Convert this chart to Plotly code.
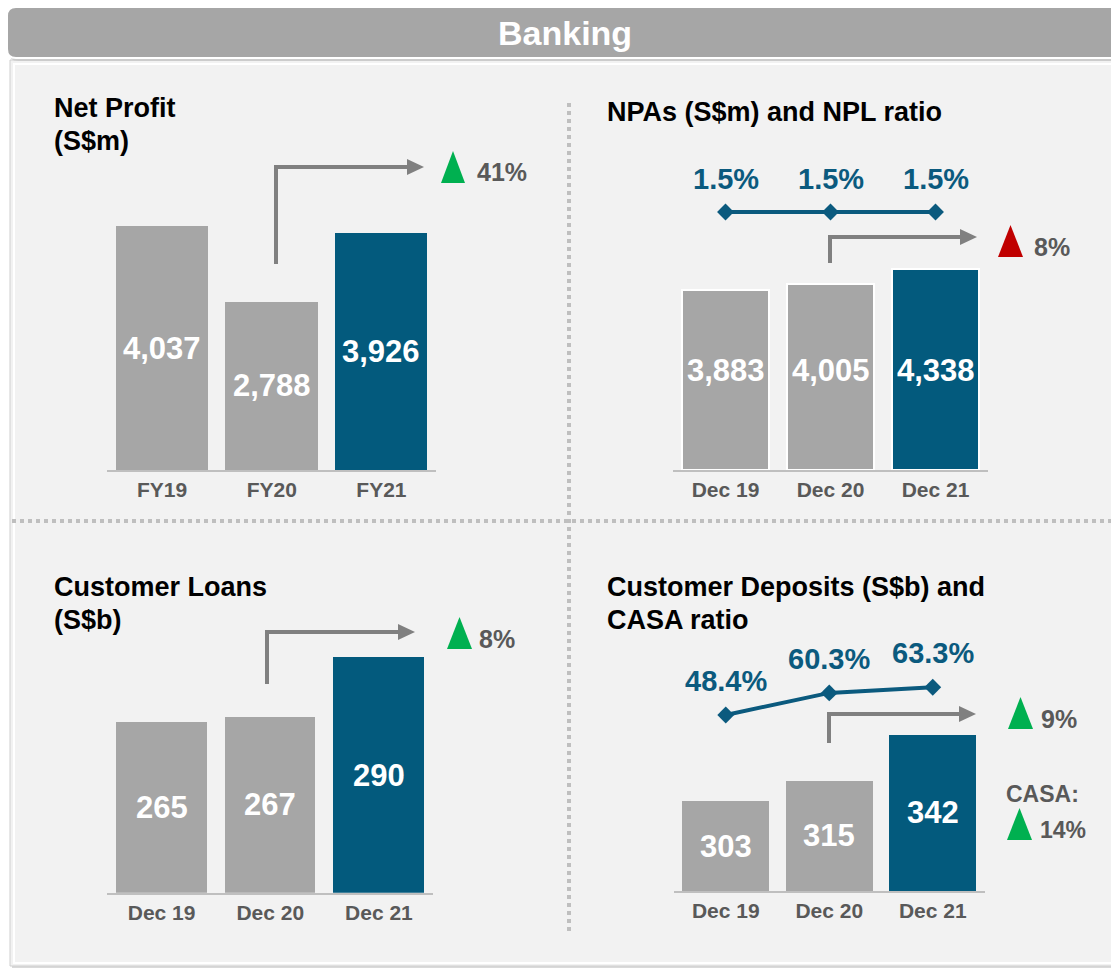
import plotly.graph_objects as go

# ---------------- data ----------------
np_cats = ["FY19", "FY20", "FY21"]
np_vals = [4037, 2788, 3926]
np_change = "41%"

npa_cats = ["Dec 19", "Dec 20", "Dec 21"]
npa_vals = [3883, 4005, 4338]
npl_ratio = [1.5, 1.5, 1.5]
npl_labels = ["1.5%", "1.5%", "1.5%"]
npa_change = "8%"

loan_cats = ["Dec 19", "Dec 20", "Dec 21"]
loan_vals = [265, 267, 290]
loan_change = "8%"

dep_cats = ["Dec 19", "Dec 20", "Dec 21"]
dep_vals = [303, 315, 342]
casa_ratio = [48.4, 60.3, 63.3]
casa_labels = ["48.4%", "60.3%", "63.3%"]
dep_change = "9%"
casa_change = "14%"

# ---------------- style ----------------
W, H = 1111, 970
FONT = "Arial, Liberation Sans, sans-serif"
GREY = "#a6a6a6"
BLUE = "#035a7d"
LINE_BLUE = "#0b5a7e"
TXT_GREY = "#595959"
ARROW = "#808080"
GREEN = "#00b050"
RED = "#c00000"
AXIS_LINE = "#bfbfbf"
PANEL_BG = "#f2f2f2"


def X(p):
    return p / W


def Y(p):
    return 1 - p / H


fig = go.Figure()

bar_colors = [GREY, GREY, BLUE]

# Panel 1: Net Profit
fig.add_trace(go.Bar(x=np_cats, y=np_vals, marker=dict(color=bar_colors, line=dict(width=0)),
                     width=0.84, xaxis="x", yaxis="y", hoverinfo="skip"))
# Panel 2: NPAs
fig.add_trace(go.Bar(x=npa_cats, y=npa_vals, marker=dict(color=bar_colors, line=dict(color="white", width=2)),
                     width=0.83, xaxis="x2", yaxis="y2", hoverinfo="skip"))
fig.add_trace(go.Scatter(x=npa_cats, y=npl_ratio, mode="lines+markers", xaxis="x2", yaxis="y5",
                         line=dict(color=LINE_BLUE, width=4),
                         marker=dict(symbol="diamond", size=13, color=LINE_BLUE),
                         hoverinfo="skip", cliponaxis=False))
# Panel 3: Customer Loans
fig.add_trace(go.Bar(x=loan_cats, y=loan_vals, marker=dict(color=bar_colors, line=dict(width=0)),
                     width=0.837, xaxis="x3", yaxis="y3", hoverinfo="skip"))
# Panel 4: Deposits
fig.add_trace(go.Bar(x=dep_cats, y=dep_vals, marker=dict(color=bar_colors, line=dict(width=0)),
                     width=0.836, xaxis="x4", yaxis="y4", hoverinfo="skip"))
fig.add_trace(go.Scatter(x=dep_cats, y=casa_ratio, mode="lines+markers", xaxis="x4", yaxis="y6",
                         line=dict(color=LINE_BLUE, width=4),
                         marker=dict(symbol="diamond", size=13, color=LINE_BLUE),
                         hoverinfo="skip", cliponaxis=False))

# axis geometry (pixel domains & value scales)
p1_dom = (107.25, 436.25, 130, 470)
p2_dom = (673, 988, 130, 470)
p3_dom = (107.25, 433.25, 600, 892.7)
p4_dom = (674, 984.5, 600, 891)

p1_range = [0, (p1_dom[3] - p1_dom[2]) / 0.0604]
p2_range = [0, (p2_dom[3] - p2_dom[2]) / 0.0464]
p3_range = [199.5, 199.5 + (p3_dom[3] - p3_dom[2]) / 2.6]
p4_range = [250.2, 250.2 + (p4_dom[3] - p4_dom[2]) / 1.7]
# NPL line: 1.5 sits at pixel 212
p5_range = [0, 1.5 * (p2_dom[3] - p2_dom[2]) / (p2_dom[3] - 212)]
# CASA line: 48.4 at pixel 715, 1.859 px per point
casa_scale = 1.859
p6_range = [48.4 - (p4_dom[3] - 715) / casa_scale, 48.4 + (715 - p4_dom[2]) / casa_scale]

tickfont = dict(family=FONT, size=21, color=TXT_GREY, weight="bold")


def xax(dom, anchor):
    return dict(domain=[X(dom[0]), X(dom[1])], range=[-0.5, 2.5], anchor=anchor, type="category",
                showline=True, linecolor=AXIS_LINE, linewidth=2, showgrid=False, zeroline=False,
                ticks="", tickfont=tickfont, ticklabelstandoff=0, fixedrange=True)


def yax(dom, rng, anchor):
    return dict(domain=[Y(dom[3]), Y(dom[2])], range=rng, anchor=anchor, visible=False,
                showgrid=False, zeroline=False, fixedrange=True)


shapes = []
annotations = []

# panel background + header
shapes.append(dict(type="rect", xref="paper", yref="paper", x0=X(12), x1=X(1125), y0=Y(968), y1=Y(62),
                   fillcolor="#d9d9d9", line=dict(width=0), layer="below"))
shapes.append(dict(type="rect", xref="paper", yref="paper", x0=X(10), x1=X(1125), y0=Y(966), y1=Y(60),
                   fillcolor=PANEL_BG, line=dict(color="#cfcfcf", width=1), layer="below"))
shapes.append(dict(type="rect", xref="paper", yref="paper", x0=X(14), x1=X(1125), y0=Y(963), y1=Y(64),
                   fillcolor=PANEL_BG, line=dict(color="white", width=2), layer="below"))


def rounded(x0, y0, x1, y1, r):
    return (f"M {X(x0 + r)},{Y(y0)} L {X(x1)},{Y(y0)} L {X(x1)},{Y(y1)} L {X(x0 + r)},{Y(y1)} "
            f"Q {X(x0)},{Y(y1)} {X(x0)},{Y(y1 - r)} L {X(x0)},{Y(y0 + r)} Q {X(x0)},{Y(y0)} {X(x0 + r)},{Y(y0)} Z")


shapes.append(dict(type="path", xref="paper", yref="paper", path=rounded(9, 10, 1130, 61, 9),
                   fillcolor="#cccccc", line=dict(width=0), layer="below"))
shapes.append(dict(type="path", xref="paper", yref="paper", path=rounded(7, 7, 1130, 58, 9),
                   fillcolor=GREY, line=dict(color="white", width=2), layer="below"))
annotations.append(dict(xref="paper", yref="paper", x=X(565), y=Y(33), text="Banking", showarrow=False,
                        xanchor="center", yanchor="middle",
                        font=dict(family=FONT, size=34, color="white", weight="bold")))

# dotted dividers
shapes.append(dict(type="line", xref="paper", yref="paper", x0=X(569), x1=X(569), y0=Y(103), y1=Y(932),
                   line=dict(color=AXIS_LINE, width=4, dash="dot")))
shapes.append(dict(type="line", xref="paper", yref="paper", x0=X(12), x1=X(1111), y0=Y(521), y1=Y(521),
                   line=dict(color=AXIS_LINE, width=4, dash="dot")))

# titles
title_font = dict(family=FONT, size=27, color="black", weight="bold")
for txt, xp, yp in [("Net Profit", 52, 108), ("(S$m)", 52, 141),
                    ("NPAs (S$m) and NPL ratio", 605, 112),
                    ("Customer Loans", 52, 587), ("(S$b)", 52, 620),
                    ("Customer Deposits (S$b) and", 605, 587), ("CASA ratio", 605, 620)]:
    annotations.append(dict(xref="paper", yref="paper", x=X(xp), y=Y(yp), text=txt, showarrow=False,
                            xanchor="left", yanchor="middle", font=title_font))


# elbow arrows
def elbow(xv, ybot, ytop, xtip):
    shapes.append(dict(type="path", xref="paper", yref="paper",
                       path=f"M {X(xv)},{Y(ybot)} L {X(xv)},{Y(ytop)} L {X(xtip - 12)},{Y(ytop)}",
                       line=dict(color=ARROW, width=4)))
    shapes.append(dict(type="path", xref="paper", yref="paper",
                       path=f"M {X(xtip)},{Y(ytop)} L {X(xtip - 17)},{Y(ytop - 8)} L {X(xtip - 17)},{Y(ytop + 8)} Z",
                       fillcolor=ARROW, line=dict(width=0)))


elbow(276, 264, 167, 424)
elbow(830, 263, 237, 977)
elbow(267, 684, 632, 415)
elbow(829, 743, 714, 976)


def tri(x0, x1, ytop, ybot, color):
    xm = (x0 + x1) / 2
    shapes.append(dict(type="path", xref="paper", yref="paper",
                       path=f"M {X(xm)},{Y(ytop)} L {X(x1)},{Y(ybot)} L {X(x0)},{Y(ybot)} Z",
                       fillcolor=color, line=dict(width=0)))


chg_font = dict(family=FONT, size=25, color=TXT_GREY, weight="bold")
tri(441, 465, 151, 183, GREEN)
annotations.append(dict(xref="paper", yref="paper", x=X(475), y=Y(172), text=np_change, showarrow=False,
                        xanchor="left", yanchor="middle", font=chg_font))
tri(998, 1023, 225, 257, RED)
annotations.append(dict(xref="paper", yref="paper", x=X(1032), y=Y(247), text=npa_change, showarrow=False,
                        xanchor="left", yanchor="middle", font=chg_font))
tri(447, 472, 617, 649, GREEN)
annotations.append(dict(xref="paper", yref="paper", x=X(477), y=Y(639), text=loan_change, showarrow=False,
                        xanchor="left", yanchor="middle", font=chg_font))
tri(1008, 1033, 697, 729, GREEN)
annotations.append(dict(xref="paper", yref="paper", x=X(1039), y=Y(719), text=dep_change, showarrow=False,
                        xanchor="left", yanchor="middle", font=chg_font))
annotations.append(dict(xref="paper", yref="paper", x=X(1004), y=Y(794), text="CASA:", showarrow=False,
                        xanchor="left", yanchor="middle",
                        font=dict(family=FONT, size=23, color=TXT_GREY, weight="bold")))
tri(1007, 1032, 808, 840, GREEN)
annotations.append(dict(xref="paper", yref="paper", x=X(1038), y=Y(830), text=casa_change, showarrow=False,
                        xanchor="left", yanchor="middle",
                        font=dict(family=FONT, size=23, color=TXT_GREY, weight="bold")))

# bar value labels (centred in visible bar; NPA labels share one level)
val_font = dict(family=FONT, size=31, color="white", weight="bold")
npa_label_level = 2134
for cats, vals, rng, xr, yr, fixed in [(np_cats, np_vals, p1_range, "x", "y", None),
                                       (npa_cats, npa_vals, p2_range, "x2", "y2", npa_label_level),
                                       (loan_cats, loan_vals, p3_range, "x3", "y3", None),
                                       (dep_cats, dep_vals, p4_range, "x4", "y4", None)]:
    for c, v in zip(cats, vals):
        yy = fixed if fixed is not None else (rng[0] + v) / 2
        annotations.append(dict(xref=xr, yref=yr, x=c, y=yy, text=f"{v:,}", showarrow=False,
                                xanchor="center", yanchor="middle", font=val_font))

# ratio labels above line points
ratio_font = dict(family=FONT, size=29, color=LINE_BLUE, weight="bold")
for c, v, t in zip(npa_cats, npl_ratio, npl_labels):
    annotations.append(dict(xref="x2", yref="y5", x=c, y=v, text=t, showarrow=False, yshift=33,
                            xanchor="center", yanchor="middle", font=ratio_font))
for c, v, t in zip(dep_cats, casa_ratio, casa_labels):
    annotations.append(dict(xref="x4", yref="y6", x=c, y=v, text=t, showarrow=False, yshift=34,
                            xanchor="center", yanchor="middle", font=ratio_font))

fig.update_layout(
    width=W, height=H, autosize=False,
    margin=dict(l=0, r=0, t=0, b=0),
    paper_bgcolor="white", plot_bgcolor="rgba(0,0,0,0)",
    showlegend=False, bargap=0,
    xaxis=xax(p1_dom, "y"), yaxis=yax(p1_dom, p1_range, "x"),
    xaxis2=xax(p2_dom, "y2"), yaxis2=yax(p2_dom, p2_range, "x2"),
    xaxis3=xax(p3_dom, "y3"), yaxis3=yax(p3_dom, p3_range, "x3"),
    xaxis4=xax(p4_dom, "y4"), yaxis4=yax(p4_dom, p4_range, "x4"),
    yaxis5=dict(overlaying="y2", anchor="x2", range=p5_range, visible=False, fixedrange=True),
    yaxis6=dict(overlaying="y4", anchor="x4", range=p6_range, visible=False, fixedrange=True),
    shapes=shapes, annotations=annotations,
    font=dict(family=FONT),
)

fig.write_html("out.html", config={"displayModeBar": False},
               post_script="document.body.style.margin='0';document.body.style.padding='0';")
